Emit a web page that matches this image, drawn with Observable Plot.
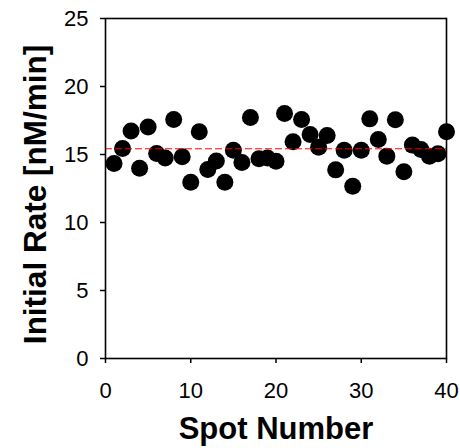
<!DOCTYPE html>
<html><head><meta charset="utf-8">
<script src="https://cdn.jsdelivr.net/npm/d3@7"></script>
<script src="https://cdn.jsdelivr.net/npm/@observablehq/plot@0.6"></script>
<style>body{margin:0;background:#fff}</style>
</head><body><div id="chart"></div>
<script>
const spots = [1,2,3,4,5,6,7,8,9,10,11,12,13,14,15,16,17,18,19,20,21,22,23,24,25,26,27,28,29,30,31,32,33,34,35,36,37,38,39,40];
const rates = [14.34,15.44,16.72,13.99,17.03,15.07,14.75,17.57,14.83,12.96,
               16.67,13.90,14.53,12.96,15.32,14.41,17.72,14.68,14.75,14.51,
               18.01,15.93,17.57,16.47,15.54,16.40,13.87,15.32,12.67,15.32,
               17.62,16.10,14.88,17.55,13.73,15.69,15.37,14.88,15.05,16.67];
const meanRate = 15.42;
const xTicks = [0,10,20,30,40];
const yTicks = [0,5,10,15,20,25];
const xTitle = "Spot Number";
const yTitle = "Initial Rate [nM/min]";

const data = spots.map((s,i) => ({spot: s, rate: rates[i]}));
const font = "'Liberation Sans', Arial, Helvetica, sans-serif";

const chart = Plot.plot({
  width: 460,
  height: 448,
  marginLeft: 105,
  marginRight: 14,
  marginTop: 18,
  marginBottom: 90,
  style: {fontFamily: font, fontSize: "22px", background: "#fff", color: "#000"},
  x: {domain: [0, 40]},
  y: {domain: [0, 25]},
  marks: [
    Plot.dot(data, {x: "spot", y: "rate", r: 8.5, fill: "black", stroke: "none"}),
    Plot.ruleY([meanRate], {x1: 0, x2: 40, stroke: "red", strokeWidth: 1, strokeDasharray: "7,3"}),
    Plot.frame({stroke: "black", strokeWidth: 1.6}),
    Plot.axisX({ticks: xTicks, tickSize: 5, tickPadding: 19, strokeWidth: 1.5, label: null, fontSize: 22}),
    Plot.axisY({ticks: yTicks, tickSize: 5, tickPadding: 12, strokeWidth: 1.5, label: null, fontSize: 22}),
    Plot.text([xTitle], {frameAnchor: "bottom", dy: 71, lineAnchor: "middle", fontSize: 31, fontWeight: "bold", fill: "black"}),
    Plot.text([yTitle], {frameAnchor: "left", dx: -70, dy: 6, rotate: -90, lineAnchor: "middle", textAnchor: "middle", fontSize: 31.5, fontWeight: "bold", fill: "black"})
  ]
});
document.getElementById("chart").append(chart);
</script>
</body></html>
